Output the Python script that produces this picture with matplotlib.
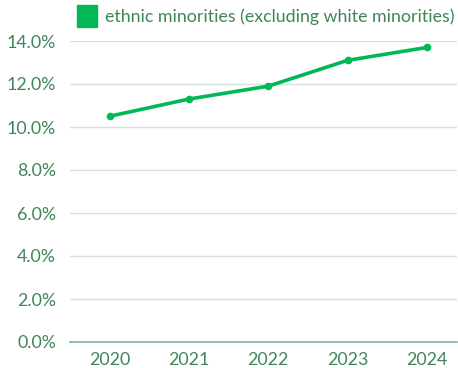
import matplotlib
matplotlib.use("Agg")
import matplotlib.pyplot as plt
from matplotlib.patches import Patch
from matplotlib.ticker import FuncFormatter

years = ["2020", "2021", "2022", "2023", "2024"]
values = [10.5, 11.3, 11.9, 13.1, 13.7]
series_name = "ethnic minorities (excluding white minorities)"
yticks = [0, 2, 4, 6, 8, 10, 12, 14]

line_color = "#00b857"
text_color = "#3f8558"
grid_color = "#d3e2da"
base_color = "#7fb394"

plt.rcParams['font.family'] = ['Lato', 'DejaVu Sans']

fig = plt.figure(figsize=(4.58, 3.68), dpi=100)
ax = fig.add_axes([70/458, 1 - 342/368, (457-70)/458, (342-41)/368])
x = list(range(len(years)))
ax.plot(x, values, color=line_color, lw=2.6, marker='o', ms=4.5, zorder=3, solid_capstyle='round')
ax.set_xlim(-0.5, 4.38)
ax.set_ylim(0, 14)
ax.set_yticks(yticks)
ax.yaxis.set_major_formatter(FuncFormatter(lambda v, p: f"{v:.1f}%"))
ax.set_xticks(x)
ax.set_xticklabels(years)
ax.grid(axis='y', color=grid_color, lw=1)
ax.set_axisbelow(True)
for s in ['top', 'right', 'left']:
    ax.spines[s].set_visible(False)
ax.spines['bottom'].set_color(base_color)
ax.spines['bottom'].set_linewidth(1.2)
ax.tick_params(axis='both', length=0, colors=text_color, labelsize=12.8)
ax.tick_params(axis='y', pad=10)
ax.tick_params(axis='x', pad=7)

leg = fig.legend(handles=[Patch(color=line_color)], labels=[series_name],
                 loc='center left', bbox_to_anchor=(77/458, 1 - 16/368), frameon=False,
                 fontsize=12.8, handlelength=1.1, handleheight=1.5, handletextpad=0.5,
                 borderaxespad=0, borderpad=0)
for t in leg.get_texts():
    t.set_color(text_color)

fig.savefig("out.png", dpi=100)
